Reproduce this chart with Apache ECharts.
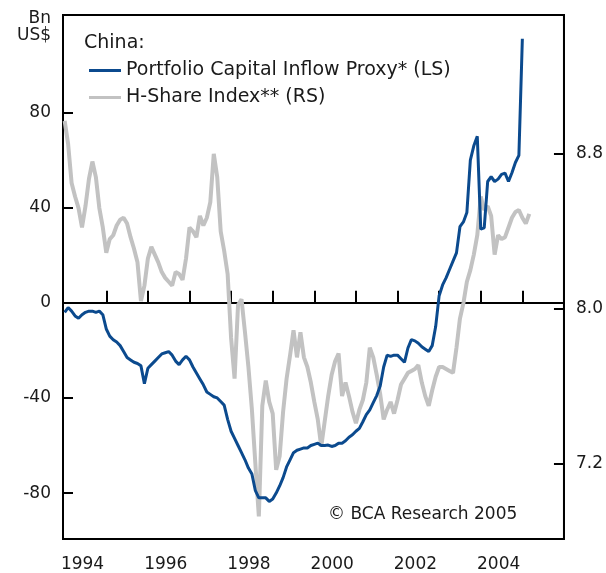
<!DOCTYPE html>
<html>
<head>
<meta charset="utf-8">
<script src="https://cdn.jsdelivr.net/npm/echarts@6/dist/echarts.min.js"></script>
<style>
  html, body { margin: 0; padding: 0; background: #fff; }
  #chart { width: 606px; height: 573px; }
</style>
</head>
<body>
<div id="chart"></div>
<script>
// monthly, Jan 1994 onwards
var startYear = 1994;

// Portfolio Capital Inflow Proxy, Bn US$ (left scale)
var inflow = [
  -4, -2, -3.5, -5.5, -6.5, -5, -4, -3.5, -3.5, -4, -3.5, -5,
  -11, -14, -15.5, -16.5, -18, -20.5, -23, -24, -25, -25.5, -26.5, -34,
  -27.5, -26, -24.5, -23, -21.5, -21, -20.5, -22, -24.5, -26, -24, -22.5,
  -24, -27, -29.5, -32, -34.5, -37.5, -38.5, -39.5, -40, -41.5, -43, -49,
  -54, -57, -60, -63, -66, -69.5, -72, -79, -82, -82, -82, -83.5,
  -82.5, -80, -77, -73.5, -69, -66, -63, -62, -61.5, -61, -61, -60,
  -59.5, -59, -60, -60, -59.8, -60.4, -60, -59, -59, -58, -56.5, -55.5,
  -54, -52.8, -50, -47, -45, -42, -39, -35, -27, -22, -22.5, -22,
  -22, -23.5, -25, -19, -15.5, -16, -17, -18.5, -19.5, -20.5, -18, -10,
  3, 7.5, 10.5, 14, 17.5, 21, 32, 34, 38, 60, 66, 70,
  31, 31.5, 51, 53, 51, 52, 54, 54.5, 51, 54.7, 59, 62,
  111
];

// H-Share Index (right scale)
var hshare = [
  8.97, 8.85, 8.65, 8.58, 8.52, 8.42, 8.53, 8.67, 8.76, 8.68, 8.52, 8.42,
  8.29, 8.36, 8.38, 8.43, 8.46, 8.47, 8.44, 8.37, 8.31, 8.24, 8.04, 8.12,
  8.26, 8.32, 8.28, 8.24, 8.19, 8.16, 8.14, 8.12, 8.19, 8.18, 8.15, 8.26,
  8.42, 8.40, 8.37, 8.48, 8.43, 8.47, 8.55, 8.80, 8.68, 8.40, 8.30, 8.18,
  7.85, 7.64, 8.02, 8.05, 7.88, 7.70, 7.48, 7.20, 6.93, 7.50, 7.63, 7.52,
  7.46, 7.17, 7.24, 7.47, 7.64, 7.76, 7.89, 7.75, 7.88, 7.75, 7.70, 7.62,
  7.52, 7.43, 7.29, 7.42, 7.55, 7.66, 7.73, 7.77, 7.55, 7.62, 7.55, 7.47,
  7.41, 7.48, 7.53, 7.62, 7.80, 7.75, 7.66, 7.56, 7.43, 7.48, 7.52, 7.46,
  7.53, 7.61, 7.64, 7.67, 7.68, 7.69, 7.71, 7.62, 7.55, 7.50, 7.58, 7.65,
  7.70, 7.70, 7.69, 7.68, 7.67, 7.80, 7.95, 8.03, 8.14, 8.20, 8.28, 8.38,
  8.58, 8.51, 8.53, 8.48, 8.28, 8.38, 8.36, 8.37, 8.42, 8.47, 8.50, 8.51,
  8.47, 8.44, 8.49
];

var leftTicks = [-80, -40, 0, 40, 80];
var rightTicks = [7.2, 8.0, 8.8];
var yearTicks = [1995, 1996, 1997, 1998, 1999, 2000, 2001, 2002, 2003, 2004, 2005];
var yearLabels = [1994, 1996, 1998, 2000, 2002, 2004];

var seriesNames = ['Portfolio Capital Inflow Proxy* (LS)', 'H-Share Index** (RS)'];

function toPairs(values) {
    var out = [];
    for (var i = 0; i < values.length; i++) {
        out.push([startYear + i / 12, values[i]]);
    }
    return out;
}

var font = 'DejaVu Sans';
var ink = '#1a1a1a';

var chart = echarts.init(document.getElementById('chart'), null, { renderer: 'canvas' });

var option = {
    backgroundColor: '#fff',
    animation: false,
    textStyle: { fontFamily: font },
    grid: {
        left: 63, right: 42, top: 15, bottom: 31,
        show: true, borderColor: '#000', borderWidth: 2
    },
    legend: {
        orient: 'vertical',
        left: 84,
        top: 56,
        icon: 'rect',
        itemWidth: 32,
        itemHeight: 3,
        itemGap: 8,
        data: seriesNames,
        textStyle: { fontFamily: font, fontSize: 19, color: ink, lineHeight: 19 }
    },
    xAxis: {
        type: 'value',
        min: 1993.96,
        max: 2006.0,
        splitLine: { show: false },
        axisLine: { lineStyle: { color: '#000', width: 2 } },
        axisTick: {
            inside: true, length: 12,
            customValues: yearTicks,
            lineStyle: { color: '#000', width: 2 }
        },
        axisLabel: {
            customValues: yearLabels.map(function (y) { return y + 0.43; }),
            formatter: function (v) { return String(Math.floor(v)); },
            margin: 17,
            fontFamily: font, fontSize: 17, color: ink
        }
    },
    yAxis: [{
        type: 'value',
        position: 'left',
        min: -99.3,
        max: 121,
        splitLine: { show: false },
        axisLine: { show: true, lineStyle: { color: '#000', width: 2 } },
        axisTick: {
            show: true, inside: true, length: 10,
            customValues: leftTicks,
            lineStyle: { color: '#000', width: 2 }
        },
        axisLabel: {
            customValues: leftTicks,
            margin: 12,
            padding: [5, 0, 0, 0],
            fontFamily: font, fontSize: 17, color: ink
        }
    }, {
        type: 'value',
        position: 'right',
        min: 6.813,
        max: 9.516,
        splitLine: { show: false },
        axisLine: { show: true, lineStyle: { color: '#000', width: 2 } },
        axisTick: {
            show: true, inside: true, length: 10,
            customValues: rightTicks,
            lineStyle: { color: '#000', width: 2 }
        },
        axisLabel: {
            customValues: rightTicks,
            formatter: function (v) { return v.toFixed(1); },
            margin: 12,
            padding: [5, 0, 0, 0],
            fontFamily: font, fontSize: 17, color: ink
        }
    }],
    graphic: [
        { type: 'text', right: 555, top: 10, style: { text: 'Bn', align: 'right', font: '17px "DejaVu Sans"', fill: ink } },
        { type: 'text', right: 555, top: 27, style: { text: 'US$', align: 'right', font: '17px "DejaVu Sans"', fill: ink } },
        { type: 'text', left: 84, top: 34, style: { text: 'China:', font: '19px "DejaVu Sans"', fill: ink } },
        { type: 'text', left: 328, top: 506, style: { text: '\u00A9 BCA Research 2005', font: '17px "DejaVu Sans"', fill: ink } }
    ],
    series: [{
        name: seriesNames[1],
        type: 'line',
        yAxisIndex: 1,
        showSymbol: false,
        color: '#c2c2c2',
        lineStyle: { width: 4, color: '#c2c2c2' },
        z: 2,
        data: toPairs(hshare)
    }, {
        name: seriesNames[0],
        type: 'line',
        yAxisIndex: 0,
        showSymbol: false,
        color: '#0b4a8e',
        lineStyle: { width: 3, color: '#0b4a8e' },
        z: 3,
        data: toPairs(inflow)
    }]
};

chart.setOption(option);
</script>
</body>
</html>
